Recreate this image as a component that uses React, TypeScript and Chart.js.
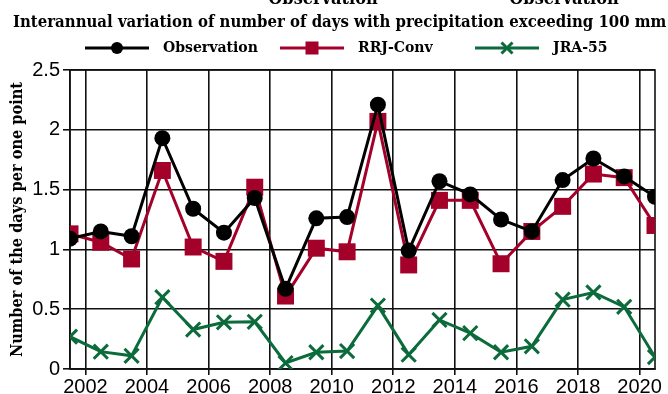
import React, { useEffect, useRef } from 'react';
import { Chart, registerables } from 'chart.js';

Chart.register(...registerables);

const years = [2001.5, 2002.5, 2003.5, 2004.5, 2005.5, 2006.5, 2007.5, 2008.5, 2009.5, 2010.5, 2011.5, 2012.5, 2013.5, 2014.5, 2015.5, 2016.5, 2017.5, 2018.5, 2019.5, 2020.5];
const observation = [1.09, 1.15, 1.11, 1.93, 1.34, 1.14, 1.43, 0.67, 1.26, 1.27, 2.21, 0.99, 1.57, 1.46, 1.25, 1.15, 1.58, 1.76, 1.61, 1.44];
const rrjConv = [1.13, 1.06, 0.92, 1.66, 1.02, 0.90, 1.52, 0.61, 1.01, 0.98, 2.07, 0.87, 1.41, 1.41, 0.88, 1.15, 1.36, 1.63, 1.60, 1.20];
const jra55 = [0.27, 0.145, 0.11, 0.60, 0.33, 0.39, 0.395, 0.05, 0.14, 0.15, 0.53, 0.12, 0.41, 0.30, 0.14, 0.19, 0.58, 0.64, 0.52, 0.10];
const xTicks = [2002, 2004, 2006, 2008, 2010, 2012, 2014, 2016, 2018, 2020];
const yTicks = [0, 0.5, 1, 1.5, 2, 2.5];
const seriesLabels = ['Observation', 'RRJ-Conv', 'JRA-55'];
const titleText = 'Interannual variation of number of days with precipitation exceeding 100 mm';
const yTitleText = 'Number of the days per one point';
const clippedHeaders = ['Observation', 'Observation'];

const SERIF = "'DejaVu Serif Condensed', 'DejaVu Serif', serif";
const SANS = "'Liberation Sans', Arial, sans-serif";

const BLACK = '#000000';
const RED = '#a3002a';
const GREEN = '#0b6b3a';

function drawMarker(ctx: CanvasRenderingContext2D, style: string, x: number, y: number, color: string) {
  ctx.save();
  ctx.fillStyle = color;
  ctx.strokeStyle = color;
  if (style === 'circle') {
    ctx.beginPath();
    ctx.arc(x, y, 6, 0, Math.PI * 2);
    ctx.fill();
  } else if (style === 'rect') {
    ctx.fillRect(x - 6.5, y - 6.5, 13, 13);
  } else {
    ctx.lineWidth = 3;
    ctx.beginPath();
    ctx.moveTo(x - 5.5, y - 5.5);
    ctx.lineTo(x + 5.5, y + 5.5);
    ctx.moveTo(x + 5.5, y - 5.5);
    ctx.lineTo(x - 5.5, y + 5.5);
    ctx.stroke();
  }
  ctx.restore();
}

const overlayPlugin = {
  id: 'overlay',
  beforeDatasetsDraw(chart: any) {
    const { ctx, chartArea } = chart;
    const { left, right, top, bottom } = chartArea;
    ctx.save();
    ctx.strokeStyle = '#111';
    ctx.lineWidth = 1.6;
    ctx.strokeRect(left, top, right - left, bottom - top);
    ctx.restore();
  },
  afterDraw(chart: any) {
    const { ctx, chartArea } = chart;
    ctx.save();
    ctx.fillStyle = '#000';
    // clipped headers at very top
    ctx.font = `bold 18px ${SERIF}`;
    ctx.textAlign = 'center';
    ctx.textBaseline = 'alphabetic';
    ctx.fillText(clippedHeaders[0], 323, 4);
    ctx.fillText(clippedHeaders[1], 564, 4);
    // title
    ctx.font = `bold 16.6px ${SERIF}`;
    ctx.textAlign = 'left';
    ctx.fillText(titleText, 13, 27);
    // legend
    const styles = ['circle', 'rect', 'crossRot'];
    chart.data.datasets.forEach((ds: any, i: number) => {
      const x0 = 85 + i * 195;
      const y0 = 48;
      ctx.save();
      ctx.strokeStyle = ds.borderColor;
      ctx.lineWidth = 3;
      ctx.beginPath();
      ctx.moveTo(x0, y0);
      ctx.lineTo(x0 + 64, y0);
      ctx.stroke();
      ctx.restore();
      drawMarker(ctx, styles[i], x0 + 32, y0, ds.borderColor);
      ctx.font = `bold 15.6px ${SERIF}`;
      ctx.fillStyle = '#000';
      ctx.textAlign = 'left';
      ctx.textBaseline = 'middle';
      ctx.fillText(ds.label, x0 + 78, y0);
    });
    // y axis title
    ctx.save();
    ctx.translate(18, (chartArea.top + chartArea.bottom) / 2);
    ctx.rotate(-Math.PI / 2);
    ctx.font = `bold 16.2px ${SERIF}`;
    ctx.textAlign = 'center';
    ctx.textBaseline = 'middle';
    ctx.fillStyle = '#000';
    ctx.fillText(yTitleText, 0, 0);
    ctx.restore();
    ctx.restore();
  },
};

export default function App() {
  const ref = useRef<HTMLCanvasElement | null>(null);
  useEffect(() => {
    if (!ref.current) return;
    const mk = (data: number[]) => years.map((x, i) => ({ x, y: data[i] }));
    const chart = new Chart(ref.current, {
      type: 'line',
      data: {
        datasets: [
          {
            label: seriesLabels[0],
            data: mk(observation),
            borderColor: BLACK,
            backgroundColor: BLACK,
            borderWidth: 3,
            pointStyle: 'circle',
            pointRadius: 8,
            pointBorderWidth: 0,
          },
          {
            label: seriesLabels[1],
            data: mk(rrjConv),
            borderColor: RED,
            backgroundColor: RED,
            borderWidth: 3,
            pointStyle: 'rect',
            pointRadius: 12,
            pointBorderWidth: 0,
          },
          {
            label: seriesLabels[2],
            data: mk(jra55),
            borderColor: GREEN,
            backgroundColor: GREEN,
            borderWidth: 3,
            pointStyle: 'crossRot',
            pointRadius: 10,
            pointBorderWidth: 3,
          },
        ],
      },
      options: {
        animation: false,
        responsive: false,
        events: [],
        layout: { padding: { top: 70, right: 11.3, left: 0, bottom: 0 } },
        plugins: { legend: { display: false }, title: { display: false }, tooltip: { enabled: false } },
        scales: {
          x: {
            type: 'linear',
            min: 2001.5,
            max: 2020.5,
            afterBuildTicks: (scale: any) => {
              scale.ticks = xTicks.map((v) => ({ value: v }));
            },
            afterFit: (scale: any) => {
              scale.height = 25;
            },
            ticks: {
              font: { family: SANS, size: 20 },
              color: '#000',
              padding: 0,
              maxRotation: 0,
              autoSkip: false,
              callback: (v: any) => String(v),
            },
            grid: { color: '#111', lineWidth: 1.6, tickLength: 6 },
            border: { color: '#111', width: 1.6 },
          },
          y: {
            min: 0,
            max: 2.5,
            afterBuildTicks: (scale: any) => {
              scale.ticks = yTicks.map((v) => ({ value: v }));
            },
            afterFit: (scale: any) => {
              scale.width = 70;
            },
            ticks: {
              font: { family: SANS, size: 20 },
              color: '#000',
              padding: 3,
              callback: (v: any) => String(v),
            },
            grid: { color: '#111', lineWidth: 1.6, tickLength: 7 },
            border: { color: '#111', width: 1.6 },
          },
        },
      },
      plugins: [overlayPlugin],
    } as any);
    return () => chart.destroy();
  }, []);
  return (
    <div style={{ position: 'fixed', left: 0, top: 0, width: 668, height: 394, background: '#fff' }}>
      <canvas ref={ref} width={668} height={394} />
    </div>
  );
}
